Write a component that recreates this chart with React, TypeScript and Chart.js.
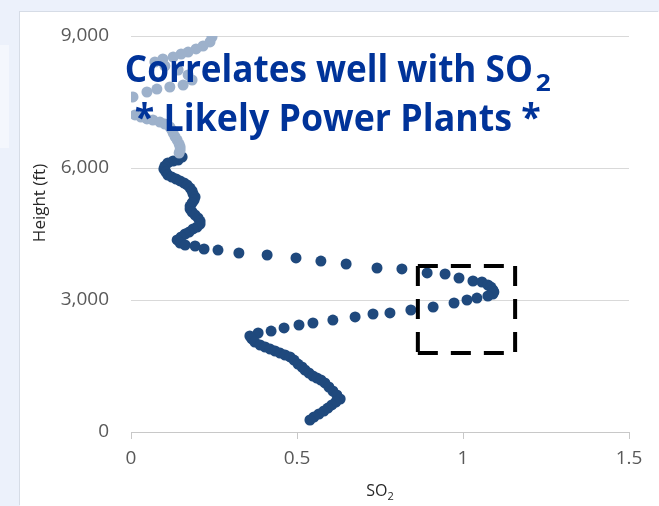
import React, { useEffect, useRef } from "react";
import { Chart, registerables } from "chart.js";

Chart.register(...registerables);

// Upper (lighter) part of the profile
const upperSO2 = [0.244, 0.238, 0.217, 0.196, 0.172, 0.151, 0.127, 0.096, 0.072, 0.102, 0.142, 0.172, 0.184, 0.157, 0.117, 0.078, 0.048, 0.006, 0.012, 0.030, 0.048, 0.066, 0.087, 0.102, 0.117, 0.123, 0.127, 0.133, 0.139, 0.145, 0.148, 0.148, 0.145];
const upperHeight = [8977, 8864, 8773, 8705, 8636, 8591, 8523, 8477, 8409, 8318, 8227, 8114, 8000, 7886, 7841, 7795, 7727, 7614, 7205, 7159, 7114, 7091, 7045, 7000, 6932, 6864, 6795, 6705, 6636, 6545, 6477, 6409, 6341];

// Lower (dark) part of the profile
const lowerSO2 = [
  0.154, 0.142, 0.127, 0.111, 0.102, 0.099, 0.105, 0.111, 0.123, 0.136, 0.148, 0.160, 0.169, 0.178, 0.184, 0.187, 0.193, 0.190, 0.184, 0.178, 0.178, 0.184, 0.193, 0.202, 0.208, 0.208, 0.199, 0.187, 0.175, 0.163, 0.151, 0.139, 0.148, 0.163, 0.193, 0.220, 0.262,
  0.325, 0.410, 0.497, 0.572, 0.648, 0.741, 0.816, 0.892, 0.946, 0.988, 1.030, 1.057, 1.075, 1.084, 1.090, 1.093, 1.090, 1.075, 1.042, 1.012, 0.973, 0.910, 0.843, 0.780, 0.729, 0.675, 0.608, 0.548, 0.506, 0.461, 0.422, 0.383,
  0.358, 0.364, 0.373, 0.389, 0.404, 0.419, 0.434, 0.449, 0.464, 0.479, 0.491, 0.503, 0.515, 0.524, 0.536, 0.548, 0.560, 0.572, 0.584, 0.596, 0.608, 0.620, 0.630, 0.617, 0.605, 0.593, 0.581, 0.566, 0.551, 0.539,
];
const lowerHeight = [
  6250, 6182, 6159, 6114, 6045, 5977, 5909, 5841, 5795, 5750, 5705, 5659, 5614, 5545, 5477, 5409, 5341, 5273, 5205, 5136, 5068, 5000, 4932, 4864, 4795, 4727, 4659, 4614, 4545, 4500, 4432, 4364, 4295, 4250, 4227, 4159, 4136,
  4068, 4023, 3955, 3886, 3818, 3727, 3705, 3614, 3591, 3500, 3432, 3409, 3341, 3295, 3227, 3182, 3136, 3091, 3045, 3000, 2932, 2841, 2773, 2705, 2682, 2614, 2545, 2477, 2432, 2364, 2295, 2250,
  2182, 2114, 2045, 1977, 1932, 1886, 1841, 1795, 1750, 1705, 1636, 1545, 1477, 1409, 1341, 1273, 1227, 1182, 1114, 1023, 932, 841, 750, 682, 614, 545, 477, 409, 341, 273,
];

const xTicks = [0, 0.5, 1, 1.5];
const yTicks = [0, 3000, 6000, 9000];

const xTitle = "SO";
const xTitleSub = "2";
const yTitle = "Height (ft)";

const noteLine1 = "Correlates well with SO";
const noteLine1Sub = "2";
const noteLine2 = "* Likely Power Plants *";
const noteCenterX = 0.623;
const noteLine1Y = 7955;
const noteLine2Y = 6841;

const boxSO2 = [0.864, 1.157];
const boxHeight = [1795, 3773];

const DARK = "#1F497D";
const LIGHT = "#9DB1CB";
const NOTE = "#003399";
const TICK_FONT = "'Open Sans', 'Liberation Sans', sans-serif";

const decorPlugin = {
  id: "decor",
  afterDatasetsDraw(chart: any) {
    const { ctx, scales } = chart;
    const xs = scales.x;
    const ys = scales.y;
    // dashed box
    const x0 = xs.getPixelForValue(boxSO2[0]);
    const x1 = xs.getPixelForValue(boxSO2[1]);
    const y0 = ys.getPixelForValue(boxHeight[1]);
    const y1 = ys.getPixelForValue(boxHeight[0]);
    ctx.save();
    ctx.strokeStyle = "#000";
    ctx.lineWidth = 4;
    ctx.setLineDash([20, 13]);
    ctx.beginPath();
    ctx.moveTo(x0, y0);
    ctx.lineTo(x1, y0);
    ctx.moveTo(x1, y0);
    ctx.lineTo(x1, y1);
    ctx.moveTo(x0, y1);
    ctx.lineTo(x1, y1);
    ctx.moveTo(x0, y0);
    ctx.lineTo(x0, y1);
    ctx.stroke();
    ctx.restore();

    // annotation text
    const cx = xs.getPixelForValue(noteCenterX);
    const b1 = ys.getPixelForValue(noteLine1Y);
    const b2 = ys.getPixelForValue(noteLine2Y);
    ctx.save();
    ctx.fillStyle = NOTE;
    ctx.textBaseline = "alphabetic";
    ctx.textAlign = "left";
    const fs = 37;
    ctx.font = `bold ${fs}px 'Open Sans', 'Noto Sans', sans-serif`;
    const w1 = ctx.measureText(noteLine1).width;
    const target1 = 408;
    const sx1 = target1 / w1;
    const subW = 15;
    const gap = 3;
    const total1 = target1 + gap + subW;
    const left1 = cx - total1 / 2;
    ctx.save();
    ctx.translate(left1, b1);
    ctx.scale(sx1, 1);
    ctx.fillText(noteLine1, 0, 0);
    ctx.restore();
    ctx.font = `bold 23px 'Open Sans', 'Noto Sans', sans-serif`;
    const ws = ctx.measureText(noteLine1Sub).width;
    ctx.save();
    ctx.translate(left1 + target1 + gap, b1 + 9);
    ctx.scale(subW / ws, 1);
    ctx.fillText(noteLine1Sub, 0, 0);
    ctx.restore();

    ctx.font = `bold ${fs}px 'Open Sans', 'Noto Sans', sans-serif`;
    const w2 = ctx.measureText(noteLine2).width;
    const target2 = 406;
    ctx.save();
    ctx.translate(cx - target2 / 2, b2);
    ctx.scale(target2 / w2, 1);
    ctx.fillText(noteLine2, 0, 0);
    ctx.restore();
    ctx.restore();
  },
  afterDraw(chart: any) {
    const { ctx, chartArea } = chart;
    ctx.save();
    ctx.fillStyle = "#262626";
    // y title
    ctx.font = `17px ${TICK_FONT}`;
    ctx.textAlign = "center";
    ctx.textBaseline = "middle";
    ctx.translate(20, 191);
    ctx.rotate(-Math.PI / 2);
    ctx.fillText(yTitle, 0, 0);
    ctx.restore();
    // x title
    ctx.save();
    ctx.fillStyle = "#262626";
    ctx.font = `16px ${TICK_FONT}`;
    ctx.textBaseline = "alphabetic";
    ctx.textAlign = "left";
    const wMain = ctx.measureText(xTitle).width;
    ctx.font = `11px ${TICK_FONT}`;
    const wSub = ctx.measureText(xTitleSub).width;
    const cx = (chartArea.left + chartArea.right) / 2;
    const left = cx - (wMain + wSub) / 2;
    ctx.font = `16px ${TICK_FONT}`;
    ctx.fillText(xTitle, left, 484);
    ctx.font = `11px ${TICK_FONT}`;
    ctx.fillText(xTitleSub, left + wMain, 488);
    ctx.restore();
  },
};

export default function App() {
  const canvasRef = useRef<HTMLCanvasElement | null>(null);

  useEffect(() => {
    const canvas = canvasRef.current;
    if (!canvas) return;
    const chart = new Chart(canvas, {
      type: "scatter",
      data: {
        datasets: [
          {
            label: "upper",
            data: upperSO2.map((v, i) => ({ x: v, y: upperHeight[i] })),
            backgroundColor: LIGHT,
            borderColor: LIGHT,
            borderWidth: 0,
            pointRadius: 5.5,
          },
          {
            label: "lower",
            data: lowerSO2.map((v, i) => ({ x: v, y: lowerHeight[i] })),
            backgroundColor: DARK,
            borderColor: DARK,
            borderWidth: 0,
            pointRadius: 5.5,
          },
        ],
      },
      options: {
        responsive: false,
        animation: false,
        devicePixelRatio: 1,
        layout: { padding: { left: 0, right: 30, top: 24, bottom: 0 } },
        plugins: {
          legend: { display: false },
          tooltip: { enabled: false },
          title: { display: false },
        },
        scales: {
          x: {
            type: "linear",
            min: 0,
            max: 1.5,
            afterBuildTicks: (scale: any) => {
              scale.ticks = xTicks.map((v) => ({ value: v }));
            },
            afterFit: (scale: any) => {
              scale.height = 74;
            },
            grid: {
              drawOnChartArea: false,
              drawTicks: true,
              tickLength: 7,
              color: "#C8C8C8",
            },
            border: { display: true, color: "#C8C8C8", width: 1 },
            ticks: {
              color: "#595959",
              font: { family: TICK_FONT, size: 19 },
              padding: 8,
              maxRotation: 0,
              callback: (v: any) => String(v),
            },
          },
          y: {
            type: "linear",
            min: 0,
            max: 9000,
            afterBuildTicks: (scale: any) => {
              scale.ticks = yTicks.map((v) => ({ value: v }));
            },
            afterFit: (scale: any) => {
              scale.width = 111;
              scale.paddingTop = 0;
              scale.paddingBottom = 0;
            },
            grid: {
              drawTicks: false,
              color: (c: any) => (c.tick && c.tick.value === 0 ? "rgba(0,0,0,0)" : "#D9D9D9"),
              lineWidth: 1,
            },
            border: { display: false },
            ticks: {
              color: "#595959",
              font: { family: TICK_FONT, size: 19 },
              padding: 22,
              callback: (v: any) => Number(v).toLocaleString("en-US"),
            },
          },
        },
      },
      plugins: [decorPlugin],
    });
    return () => chart.destroy();
  }, []);

  return (
    <div
      style={{
        position: "fixed",
        left: 0,
        top: 0,
        width: 659,
        height: 506,
        background: "#ECF1FB",
        overflow: "hidden",
      }}
    >
      <div
        style={{
          position: "absolute",
          left: 0,
          top: 45,
          width: 9,
          height: 103,
          background: "#F4F7FD",
        }}
      />
      <div
        style={{
          position: "absolute",
          left: 20,
          top: 12,
          width: 639,
          height: 494,
          background: "#FFFFFF",
          boxShadow: "-1px -1px 0 #D6DCE6",
        }}
      >
        <canvas ref={canvasRef} width={639} height={494} style={{ display: "block" }} />
      </div>
    </div>
  );
}
